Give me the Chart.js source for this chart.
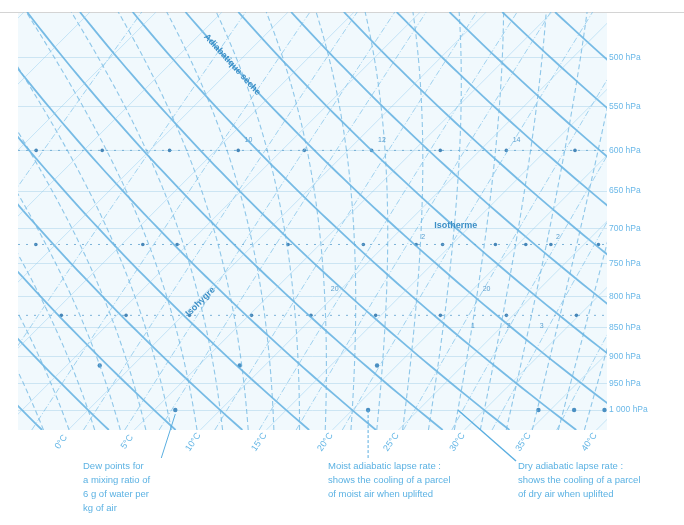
<!DOCTYPE html>
<html>
<head>
<meta charset="utf-8">
<script src="https://cdn.jsdelivr.net/npm/chart.js@4.4.1/dist/chart.umd.min.js"></script>
<style>
  html, body { margin: 0; padding: 0; background: #ffffff; }
  #wrap { position: relative; width: 684px; height: 525px; overflow: hidden; }
  canvas { display: block; }
  .note {
    position: absolute;
    font-family: "Liberation Sans", Arial, sans-serif;
    font-size: 9.5px;
    line-height: 14px;
    color: #5cb2e3;
    white-space: nowrap;
  }
</style>
</head>
<body>
<div id="wrap">
  <canvas id="chart" width="684" height="525"></canvas>
  <div class="note" style="left:83px; top:459px;">Dew points for<br>a mixing ratio of<br>6 g of water per<br>kg of air</div>
  <div class="note" style="left:328px; top:459px;">Moist adiabatic lapse rate :<br>shows the cooling of a parcel<br>of moist air when uplifted</div>
  <div class="note" style="left:518px; top:459px;">Dry adiabatic lapse rate :<br>shows the cooling of a parcel<br>of dry air when uplifted</div>
</div>
<script>
// ---- Diagram data ----------------------------------------------------------
// Pressure levels shown on the right-hand axis (hPa)
const pressureLevels = [500, 550, 600, 650, 700, 750, 800, 850, 900, 950, 1000];
const pressureLabels = ['500 hPa', '550 hPa', '600 hPa', '650 hPa', '700 hPa', '750 hPa',
                        '800 hPa', '850 hPa', '900 hPa', '950 hPa', '1 000 hPa'];
// Labelled isotherms along the bottom edge (°C)
const temperatureTicks = [0, 5, 10, 15, 20, 25, 30, 35, 40];
const temperatureLabels = ['0°C', '5°C', '10°C', '15°C', '20°C', '25°C', '30°C', '35°C', '40°C'];
// Background isotherms (°C)
const isotherms = [-60, -55, -50, -45, -40, -35, -30, -25, -20, -15, -10, -5,
                   0, 5, 10, 15, 20, 25, 30, 35, 40];
// Dry adiabats, potential temperature at 1000 hPa (°C)
const dryAdiabats = [-10, -5, 0, 5, 10, 15, 20, 25, 30, 35, 40, 45, 50, 55, 60, 65, 70, 75, 80];
// Saturated (moist) adiabats, wet-bulb potential temperature (°C)
const moistAdiabats = [-4, -2, 0, 2, 4, 6, 8, 10, 12, 14, 16, 18, 20, 22, 24, 26, 28,
                       30, 32, 34, 36, 38, 40];
// Saturation mixing-ratio lines (g of water per kg of air)
const mixingRatios = [1, 2, 3, 4, 5, 6, 8, 10, 12, 15, 20, 25, 30, 40];
// Dotted reference rows: pressure (hPa) and temperatures of their marks (°C)
const dotRowPressures = [600, 722, 830];
const dotRowTemps = [
  [-23.6, -18.6, -13.5, -8.3, -3.3, 1.8, 7.0, 12.0, 17.2],
  [-16.5, -8.4, -5.8, 2.6, 8.3, 12.3, 14.3, 18.3, 20.6, 22.5, 26.1],
  [-9.2, -4.3, 0.5, 5.2, 9.7, 14.6, 19.5, 24.5, 29.8]
];
// Isolated marks (pressure hPa, temperature °C)
const markPressures = [916, 916, 916, 1000, 1000, 1000, 1000, 1000];
const markTemps = [-2.5, 8.1, 18.5, 6.6, 21.2, 34.1, 36.8, 39.1];
// Small numbers printed on the diagram (text, pressure hPa, temperature °C)
const numberTexts = ['10', '12', '14', '2', '2', '20', '20', '1', '2', '3'];
const numberPressures = [588, 588, 588, 712, 712, 788, 788, 848, 848, 848];
const numberTemps = [-8.3, 1.8, 12.0, 12.3, 22.5, 9.5, 21.0, 22.8, 25.5, 28.0];

// ---- Geometry of the skew-T / log-p frame ----------------------------------
const P_TOP = 457, P_BOTTOM = 1040;
const SKEW = 38.5;            // °C of skew per unit of ln(p): isotherms at 45°
const X_MIN = -3.8, X_MAX = 40.8;

function skewX(t, p) { return t + SKEW * Math.log(P_BOTTOM / p); }

// Sample pressures for drawing curves
const samplePressures = [];
for (let i = 0; i <= 60; i++) {
  samplePressures.push(P_BOTTOM * Math.pow(P_TOP / P_BOTTOM, i / 60));
}

function satVapour(tc) { return 6.112 * Math.exp(17.67 * tc / (tc + 243.5)); }
function satMix(tc, p) { const e = satVapour(tc); return 0.622 * e / (p - e); }
function dryTemp(thetaC, p) { return (thetaC + 273.15) * Math.pow(p / 1000, 0.2857) - 273.15; }

function dryCurve(thetaC) {
  return samplePressures.map(p => ({ x: skewX(dryTemp(thetaC, p), p), y: p }));
}

function moistLapse(tk, p) {
  const Rd = 287.04, Cp = 1005.7, Lv = 2.501e6, eps = 0.622;
  const rs = satMix(tk - 273.15, p);
  return (1 / p) * (Rd * tk + Lv * rs) / (Cp + Lv * Lv * rs * eps / (Rd * tk * tk));
}

function integrateMoist(tk, p0, p1, steps) {
  const h = (p1 - p0) / steps;
  let t = tk, p = p0;
  for (let i = 0; i < steps; i++) {
    const k1 = moistLapse(t, p);
    const k2 = moistLapse(t + h * k1 / 2, p + h / 2);
    t += h * k2; p += h;
  }
  return t;
}

function moistCurve(thetaW) {
  return samplePressures.map(p => {
    const tk = integrateMoist(thetaW + 273.15, 1000, p, 40);
    return { x: skewX(tk - 273.15, p), y: p };
  });
}

function mixingCurve(w) {
  return samplePressures.map(p => {
    const e = w * p / (622 + w);
    const l = Math.log(e / 6.112);
    const td = 243.5 * l / (17.67 - l);
    return { x: skewX(td, p), y: p };
  });
}

function isothermLine(t) {
  return [{ x: skewX(t, P_BOTTOM), y: P_BOTTOM }, { x: skewX(t, P_TOP), y: P_TOP }];
}

// ---- Datasets ---------------------------------------------------------------
const datasets = [];
const lineBase = { showLine: true, pointRadius: 0, fill: false, tension: 0 };

isotherms.forEach(t => datasets.push(Object.assign({}, lineBase, {
  data: isothermLine(t), borderColor: 'rgba(150,206,238,0.55)', borderWidth: 0.9 })));

mixingRatios.forEach(w => datasets.push(Object.assign({}, lineBase, {
  data: mixingCurve(w), borderColor: 'rgba(125,192,232,0.7)', borderWidth: 1,
  borderDash: [6, 2, 1, 2] })));

moistAdiabats.forEach(t => datasets.push(Object.assign({}, lineBase, {
  data: moistCurve(t), borderColor: 'rgba(110,182,226,0.75)', borderWidth: 1.1,
  borderDash: [5, 3] })));

dryAdiabats.forEach(t => datasets.push(Object.assign({}, lineBase, {
  data: dryCurve(t), borderColor: 'rgba(98,176,224,0.85)', borderWidth: 1.8 })));

dotRowPressures.forEach((p, i) => {
  datasets.push(Object.assign({}, lineBase, {
    data: [{ x: X_MIN, y: p }, { x: X_MAX, y: p }],
    borderColor: 'rgba(95,160,205,0.8)', borderWidth: 1, borderDash: [2, 6] }));
  datasets.push({
    showLine: false, pointRadius: 1.8, pointBackgroundColor: '#4686b8',
    pointBorderWidth: 0,
    data: dotRowTemps[i].map(t => ({ x: skewX(t, p), y: p })) });
});

datasets.push({
  showLine: false, pointRadius: 2.2, pointBackgroundColor: '#4a8fc2', pointBorderWidth: 0,
  data: markTemps.map((t, i) => ({ x: skewX(t, markPressures[i]), y: markPressures[i] })) });

// ---- Plugins: frame, labels along lines, leaders ------------------------------
const framePlugin = {
  id: 'frame',
  beforeDraw(chart) {
    const { ctx, chartArea: a } = chart;
    ctx.save();
    ctx.fillStyle = '#f1f9fd';
    ctx.fillRect(a.left, a.top, a.right - a.left, a.bottom - a.top);
    ctx.strokeStyle = '#d4d4d4';
    ctx.lineWidth = 1;
    ctx.beginPath();
    ctx.moveTo(0, a.top + 0.5);
    ctx.lineTo(chart.width, a.top + 0.5);
    ctx.stroke();
    ctx.restore();
  },
  afterDraw(chart) {
    const { ctx, chartArea: a } = chart;
    const xs = chart.scales.x, ys = chart.scales.y;
    const px = (t, p) => xs.getPixelForValue(skewX(t, p));
    const py = p => ys.getPixelForValue(p);
    ctx.save();

    // Temperature labels under the lower ends of the isotherms
    ctx.fillStyle = '#62b5e5';
    ctx.font = '9px "Liberation Sans", Arial, sans-serif';
    ctx.textAlign = 'center';
    ctx.textBaseline = 'middle';
    temperatureTicks.forEach((t, i) => {
      const x = px(t, P_BOTTOM);
      ctx.save();
      ctx.translate(x - 7, a.bottom + 12);
      ctx.rotate(-55 * Math.PI / 180);
      ctx.fillText(temperatureLabels[i], 0, 0);
      ctx.restore();
    });

    // Small numbers on the diagram
    ctx.fillStyle = '#5a9fcf';
    ctx.font = '7px "Liberation Sans", Arial, sans-serif';
    numberTexts.forEach((s, i) => {
      ctx.fillText(s, px(numberTemps[i], numberPressures[i]), py(numberPressures[i]));
    });

    // Names written along the lines
    ctx.fillStyle = '#3b8fc6';
    ctx.font = 'bold 9px "Liberation Sans", Arial, sans-serif';
    const pA = 492, pB = 522;
    const tA = dryTemp(40, pA), tB = dryTemp(40, pB);
    const ang = Math.atan2(py(pB) - py(pA), px(tB, pB) - px(tA, pA));
    ctx.save();
    ctx.translate((px(tA, pA) + px(tB, pB)) / 2, (py(pA) + py(pB)) / 2);
    ctx.rotate(ang);
    ctx.fillText('Adiabatique sèche', 0, 0);
    ctx.restore();

    ctx.fillText('Isotherme', px(14.1, 700), py(700) - 3);

    ctx.save();
    ctx.translate(px(0.3, 808), py(808));
    ctx.rotate(-45 * Math.PI / 180);
    ctx.fillText('Isohygre', 0, 0);
    ctx.restore();

    // Leaders from the notes to the lines they describe
    ctx.strokeStyle = '#5aaee0';
    ctx.lineWidth = 1;
    // dew point for 6 g/kg at 1000 hPa
    const dx = px(6.6, 1000), dy = py(1000);
    ctx.beginPath();
    ctx.moveTo(dx - 14, a.bottom + 28);
    ctx.lineTo(dx, dy + 4);
    ctx.stroke();
    // moist adiabat
    const mx = px(21.2, 1000);
    ctx.setLineDash([3, 2]);
    ctx.beginPath();
    ctx.moveTo(mx, dy);
    ctx.lineTo(mx, a.bottom + 28);
    ctx.stroke();
    ctx.setLineDash([]);
    // dry adiabat, led down to its note
    const lx = px(dryTemp(28, 1000), 1000), ly = py(1000);
    ctx.lineWidth = 1.4;
    ctx.beginPath();
    ctx.moveTo(lx, ly);
    ctx.lineTo(516, a.bottom + 31);
    ctx.stroke();
    ctx.restore();
  }
};

new Chart(document.getElementById('chart'), {
  type: 'scatter',
  data: { datasets },
  options: {
    responsive: false,
    animation: false,
    events: [],
    layout: { padding: { left: 18, top: 12, bottom: 95, right: 0 } },
    plugins: { legend: { display: false }, tooltip: { enabled: false } },
    scales: {
      x: { type: 'linear', min: X_MIN, max: X_MAX, display: false },
      y: {
        type: 'logarithmic', position: 'right', reverse: true,
        min: P_TOP, max: P_BOTTOM,
        afterBuildTicks(scale) { scale.ticks = pressureLevels.map(v => ({ value: v })); },
        afterFit(scale) { scale.width = 77; },
        border: { display: false },
        grid: { color: 'rgba(180,215,236,0.6)', lineWidth: 1, drawTicks: false },
        ticks: {
          padding: 2, color: '#6ab8e8',
          font: { family: '"Liberation Sans", Arial, sans-serif', size: 8.5 },
          callback(value, index) { return pressureLabels[index]; }
        }
      }
    }
  },
  plugins: [framePlugin]
});
</script>
</body>
</html>
